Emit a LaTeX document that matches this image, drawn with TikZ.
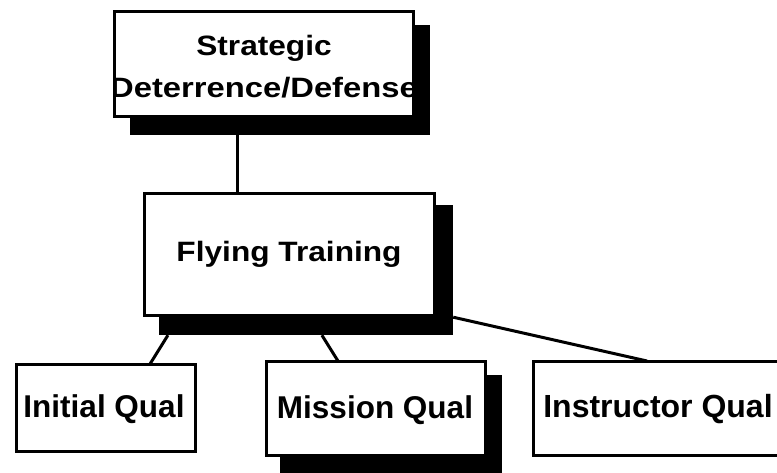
\documentclass[tikz,border=0pt]{standalone}
\usepackage{fontspec}
\setmainfont{Liberation Sans}
\usetikzlibrary{calc}
\begin{document}
\begin{tikzpicture}[x=1pt,y=-1pt,
  box/.style={draw=black, line width=3pt, fill=white, rectangle, inner sep=0pt},
  shadowbox/.style={fill=black, rectangle, inner sep=0pt},
  link/.style={line width=3pt},
  lbl/.style={font=\bfseries, inner sep=0pt, anchor=base}]
\useasboundingbox (0,0) rectangle (777,472);
% shadows
\node[shadowbox, minimum width=300pt, minimum height=110pt] (tsh) at (280,80) {};
\node[shadowbox, minimum width=294pt, minimum height=130pt] (fsh) at (306,270) {};
\node[shadowbox, minimum width=222pt, minimum height=110pt] (msh) at (391,430) {};
% connectors
\draw[link] ($(tsh.south west)!0.357!(tsh.south east)$) coordinate (c1) -- (c1 |- 0,194) coordinate (c1b);
\draw[link] ($(fsh.south west)!0.031!(fsh.south east)$) -- (150,364) coordinate (c2);
\draw[link] ($(fsh.south west)!0.554!(fsh.south east)$) -- (338,361) coordinate (c3);
\draw[link] ($(fsh.north east)!0.862!(fsh.south east)$) -- (647,361) coordinate (c4);
% boxes
\node[box, minimum width=299pt, minimum height=105pt] (top) at (264,64) {};
\node[box, minimum width=290pt, minimum height=122pt] (ft) at (289.5,254.5) {};
\node[box, minimum width=179pt, minimum height=87pt] (iq) at (106,408) {};
\node[box, minimum width=219pt, minimum height=94pt] (mq) at (376,408.5) {};
\node[box, minimum width=265pt, minimum height=94pt] (inq) at (666,408.5) {};
% texts
\begin{scope}
\clip (top.south west) rectangle (top.north east);
\node[lbl] (t1) at (264,55) {\fontsize{28}{28}\selectfont\scalebox{1.13}[1]{Strategic}};
\node[lbl] (t2) at (264,97) {\fontsize{28}{28}\selectfont\scalebox{1.17}[1]{Deterrence/Defense}};
\end{scope}
\node[lbl] (t3) at (289,261) {\fontsize{28}{28}\selectfont\scalebox{1.13}[1]{Flying Training}};
\node[lbl] (t4) at (104,417) {\fontsize{31.5}{31.5}\selectfont Initial Qual};
\node[lbl] (t5) at (375,418) {\fontsize{31.5}{31.5}\selectfont Mission Qual};
\node[lbl] (t6) at (658,417) {\fontsize{32}{32}\selectfont Instructor Qual};
\end{tikzpicture}
\end{document}
